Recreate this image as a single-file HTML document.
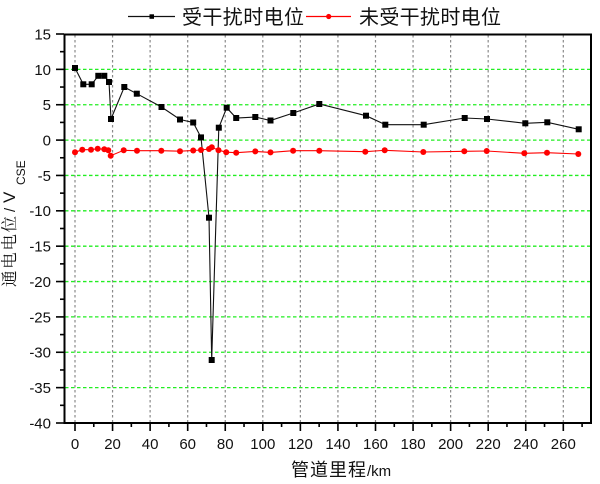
<!DOCTYPE html>
<html><head><meta charset="utf-8"><style>
html,body{margin:0;padding:0;background:#fff;}
svg{display:block;}
.n{font-family:"Liberation Sans",Arial,sans-serif;font-size:15px;fill:#111;}
</style></head><body>
<svg width="600" height="484" viewBox="0 0 600 484" xmlns="http://www.w3.org/2000/svg">
<rect width="600" height="484" fill="#fff"/>
<g stroke="#8a8a8a" stroke-width="1.2" stroke-dasharray="2.5 2.5">
<line x1="75" y1="35" x2="75" y2="422"/><line x1="112.56" y1="35" x2="112.56" y2="422"/><line x1="150.12" y1="35" x2="150.12" y2="422"/><line x1="187.69" y1="35" x2="187.69" y2="422"/><line x1="225.25" y1="35" x2="225.25" y2="422"/><line x1="262.81" y1="35" x2="262.81" y2="422"/><line x1="300.37" y1="35" x2="300.37" y2="422"/><line x1="337.93" y1="35" x2="337.93" y2="422"/><line x1="375.5" y1="35" x2="375.5" y2="422"/><line x1="413.06" y1="35" x2="413.06" y2="422"/><line x1="450.62" y1="35" x2="450.62" y2="422"/><line x1="488.18" y1="35" x2="488.18" y2="422"/><line x1="525.74" y1="35" x2="525.74" y2="422"/><line x1="563.31" y1="35" x2="563.31" y2="422"/>
</g>
<g stroke="#22ee22" stroke-width="1.3" stroke-dasharray="3.5 2.5">
<line x1="65" y1="69.36" x2="590" y2="69.36"/><line x1="65" y1="104.73" x2="590" y2="104.73"/><line x1="65" y1="140.09" x2="590" y2="140.09"/><line x1="65" y1="175.45" x2="590" y2="175.45"/><line x1="65" y1="210.82" x2="590" y2="210.82"/><line x1="65" y1="246.18" x2="590" y2="246.18"/><line x1="65" y1="281.55" x2="590" y2="281.55"/><line x1="65" y1="316.91" x2="590" y2="316.91"/><line x1="65" y1="352.27" x2="590" y2="352.27"/><line x1="65" y1="387.64" x2="590" y2="387.64"/>
</g>
<rect x="64.5" y="34.5" width="526.5" height="388.5" fill="none" stroke="#000" stroke-width="2"/>
<g stroke="#000" stroke-width="1.6">
<line x1="56" y1="34" x2="64" y2="34"/><line x1="56" y1="69.36" x2="64" y2="69.36"/><line x1="56" y1="104.73" x2="64" y2="104.73"/><line x1="56" y1="140.09" x2="64" y2="140.09"/><line x1="56" y1="175.45" x2="64" y2="175.45"/><line x1="56" y1="210.82" x2="64" y2="210.82"/><line x1="56" y1="246.18" x2="64" y2="246.18"/><line x1="56" y1="281.55" x2="64" y2="281.55"/><line x1="56" y1="316.91" x2="64" y2="316.91"/><line x1="56" y1="352.27" x2="64" y2="352.27"/><line x1="56" y1="387.64" x2="64" y2="387.64"/><line x1="56" y1="423" x2="64" y2="423"/>
<line x1="60" y1="51.68" x2="64" y2="51.68"/><line x1="60" y1="87.05" x2="64" y2="87.05"/><line x1="60" y1="122.41" x2="64" y2="122.41"/><line x1="60" y1="157.77" x2="64" y2="157.77"/><line x1="60" y1="193.14" x2="64" y2="193.14"/><line x1="60" y1="228.5" x2="64" y2="228.5"/><line x1="60" y1="263.86" x2="64" y2="263.86"/><line x1="60" y1="299.23" x2="64" y2="299.23"/><line x1="60" y1="334.59" x2="64" y2="334.59"/><line x1="60" y1="369.96" x2="64" y2="369.96"/><line x1="60" y1="405.32" x2="64" y2="405.32"/>
</g>
<g stroke="#000" stroke-width="1.6">
<line x1="75" y1="423" x2="75" y2="431"/><line x1="112.56" y1="423" x2="112.56" y2="431"/><line x1="150.12" y1="423" x2="150.12" y2="431"/><line x1="187.69" y1="423" x2="187.69" y2="431"/><line x1="225.25" y1="423" x2="225.25" y2="431"/><line x1="262.81" y1="423" x2="262.81" y2="431"/><line x1="300.37" y1="423" x2="300.37" y2="431"/><line x1="337.93" y1="423" x2="337.93" y2="431"/><line x1="375.5" y1="423" x2="375.5" y2="431"/><line x1="413.06" y1="423" x2="413.06" y2="431"/><line x1="450.62" y1="423" x2="450.62" y2="431"/><line x1="488.18" y1="423" x2="488.18" y2="431"/><line x1="525.74" y1="423" x2="525.74" y2="431"/><line x1="563.31" y1="423" x2="563.31" y2="431"/>
<line x1="93.78" y1="423" x2="93.78" y2="427"/><line x1="131.34" y1="423" x2="131.34" y2="427"/><line x1="168.9" y1="423" x2="168.9" y2="427"/><line x1="206.47" y1="423" x2="206.47" y2="427"/><line x1="244.03" y1="423" x2="244.03" y2="427"/><line x1="281.59" y1="423" x2="281.59" y2="427"/><line x1="319.15" y1="423" x2="319.15" y2="427"/><line x1="356.72" y1="423" x2="356.72" y2="427"/><line x1="394.28" y1="423" x2="394.28" y2="427"/><line x1="431.84" y1="423" x2="431.84" y2="427"/><line x1="469.4" y1="423" x2="469.4" y2="427"/><line x1="506.96" y1="423" x2="506.96" y2="427"/><line x1="544.53" y1="423" x2="544.53" y2="427"/><line x1="582.09" y1="423" x2="582.09" y2="427"/>
</g>
<g class="n" text-anchor="end">
<text x="51" y="39.4">15</text><text x="51" y="74.8">10</text><text x="51" y="110.1">5</text><text x="51" y="145.5">0</text><text x="51" y="180.9">-5</text><text x="51" y="216.2">-10</text><text x="51" y="251.6">-15</text><text x="51" y="286.9">-20</text><text x="51" y="322.3">-25</text><text x="51" y="357.7">-30</text><text x="51" y="393">-35</text><text x="51" y="428.4">-40</text>
</g>
<g class="n" text-anchor="middle">
<text x="75" y="449">0</text><text x="112.56" y="449">20</text><text x="150.12" y="449">40</text><text x="187.69" y="449">60</text><text x="225.25" y="449">80</text><text x="262.81" y="449">100</text><text x="300.37" y="449">120</text><text x="337.93" y="449">140</text><text x="375.5" y="449">160</text><text x="413.06" y="449">180</text><text x="450.62" y="449">200</text><text x="488.18" y="449">220</text><text x="525.74" y="449">240</text><text x="563.31" y="449">260</text>
</g>
<text x="291" y="476" font-family="'Liberation Sans','Noto Sans CJK SC',sans-serif" font-size="18" fill="#111"><tspan textLength="75" lengthAdjust="spacing">管道里程</tspan><tspan font-size="15">/km</tspan></text>
<g transform="translate(15,287) rotate(-90)" fill="#111">
<text x="0" y="0" font-family="'Liberation Serif','Noto Serif CJK SC',serif" font-size="16.5" textLength="71" lengthAdjust="spacing">通电电位</text>
<text x="75" y="0" font-family="'Liberation Sans',sans-serif" font-size="15">/</text>
<text x="84" y="0" font-family="'Liberation Sans',sans-serif" font-size="17">V</text>
<text x="102" y="10" font-family="'Liberation Sans',sans-serif" font-size="12">CSE</text>
</g>
<polyline fill="none" stroke="#111" stroke-width="1.1" points="75,68 83.3,84.3 91.7,84.3 98.3,75.8 104.3,75.8 109,82 111,119 124.3,87 136.8,93.7 161.5,107 180,119.5 193.2,122.5 201,137.4 209,217.7 211.7,360 218.8,127.7 226.7,107.7 236.2,118 255.3,117 270.5,120.5 293.3,113 319.3,104 366,115.7 385.3,124.7 423.7,124.7 464.7,118 487,119 525.3,123.3 547.3,122.3 578.7,129.3"/>
<g fill="#000">
<rect x="72" y="65" width="6" height="6"/><rect x="80.3" y="81.3" width="6" height="6"/><rect x="88.7" y="81.3" width="6" height="6"/><rect x="95.3" y="72.8" width="6" height="6"/><rect x="101.3" y="72.8" width="6" height="6"/><rect x="106" y="79" width="6" height="6"/><rect x="108" y="116" width="6" height="6"/><rect x="121.3" y="84" width="6" height="6"/><rect x="133.8" y="90.7" width="6" height="6"/><rect x="158.5" y="104" width="6" height="6"/><rect x="177" y="116.5" width="6" height="6"/><rect x="190.2" y="119.5" width="6" height="6"/><rect x="198" y="134.4" width="6" height="6"/><rect x="206" y="214.7" width="6" height="6"/><rect x="208.7" y="357" width="6" height="6"/><rect x="215.8" y="124.7" width="6" height="6"/><rect x="223.7" y="104.7" width="6" height="6"/><rect x="233.2" y="115" width="6" height="6"/><rect x="252.3" y="114" width="6" height="6"/><rect x="267.5" y="117.5" width="6" height="6"/><rect x="290.3" y="110" width="6" height="6"/><rect x="316.3" y="101" width="6" height="6"/><rect x="363" y="112.7" width="6" height="6"/><rect x="382.3" y="121.7" width="6" height="6"/><rect x="420.7" y="121.7" width="6" height="6"/><rect x="461.7" y="115" width="6" height="6"/><rect x="484" y="116" width="6" height="6"/><rect x="522.3" y="120.3" width="6" height="6"/><rect x="544.3" y="119.3" width="6" height="6"/><rect x="575.7" y="126.3" width="6" height="6"/>
</g>
<polyline fill="none" stroke="#f00" stroke-width="1.1" points="75,152.3 82.3,149.7 91,149.7 97.7,148.7 104.3,149.3 108.3,150.3 110.7,155.7 123.7,150.3 137,150.7 161.3,150.7 180,151.2 193.2,150.5 201,150 209,149 211.8,147.3 218.5,150.2 226.2,152.2 236.2,152.7 255.3,151.4 270.5,152.4 293.1,150.7 319.3,150.7 365.3,151.7 384.7,150.3 423.3,152 464.3,151.3 486.7,151 524.3,153.3 547,152.7 578.3,154"/>
<g fill="#f00">
<circle cx="75" cy="152.3" r="3"/><circle cx="82.3" cy="149.7" r="3"/><circle cx="91" cy="149.7" r="3"/><circle cx="97.7" cy="148.7" r="3"/><circle cx="104.3" cy="149.3" r="3"/><circle cx="108.3" cy="150.3" r="3"/><circle cx="110.7" cy="155.7" r="3"/><circle cx="123.7" cy="150.3" r="3"/><circle cx="137" cy="150.7" r="3"/><circle cx="161.3" cy="150.7" r="3"/><circle cx="180" cy="151.2" r="3"/><circle cx="193.2" cy="150.5" r="3"/><circle cx="201" cy="150" r="3"/><circle cx="209" cy="149" r="3"/><circle cx="211.8" cy="147.3" r="3"/><circle cx="218.5" cy="150.2" r="3"/><circle cx="226.2" cy="152.2" r="3"/><circle cx="236.2" cy="152.7" r="3"/><circle cx="255.3" cy="151.4" r="3"/><circle cx="270.5" cy="152.4" r="3"/><circle cx="293.1" cy="150.7" r="3"/><circle cx="319.3" cy="150.7" r="3"/><circle cx="365.3" cy="151.7" r="3"/><circle cx="384.7" cy="150.3" r="3"/><circle cx="423.3" cy="152" r="3"/><circle cx="464.3" cy="151.3" r="3"/><circle cx="486.7" cy="151" r="3"/><circle cx="524.3" cy="153.3" r="3"/><circle cx="547" cy="152.7" r="3"/><circle cx="578.3" cy="154" r="3"/>
</g>
<line x1="128" y1="16.5" x2="175" y2="16.5" stroke="#111" stroke-width="1.2"/>
<rect x="149.5" y="14.3" width="4.5" height="4.5" fill="#000"/>
<text x="182" y="24" font-family="'Liberation Sans','Noto Sans CJK SC',sans-serif" font-size="20" fill="#111" textLength="122" lengthAdjust="spacing">受干扰时电位</text>
<line x1="306" y1="16.5" x2="351" y2="16.5" stroke="#f00" stroke-width="1.2"/>
<circle cx="328.7" cy="16.5" r="2.6" fill="#f00"/>
<text x="359" y="24" font-family="'Liberation Sans','Noto Sans CJK SC',sans-serif" font-size="20" fill="#111" textLength="142" lengthAdjust="spacing">未受干扰时电位</text>
</svg>
</body></html>
